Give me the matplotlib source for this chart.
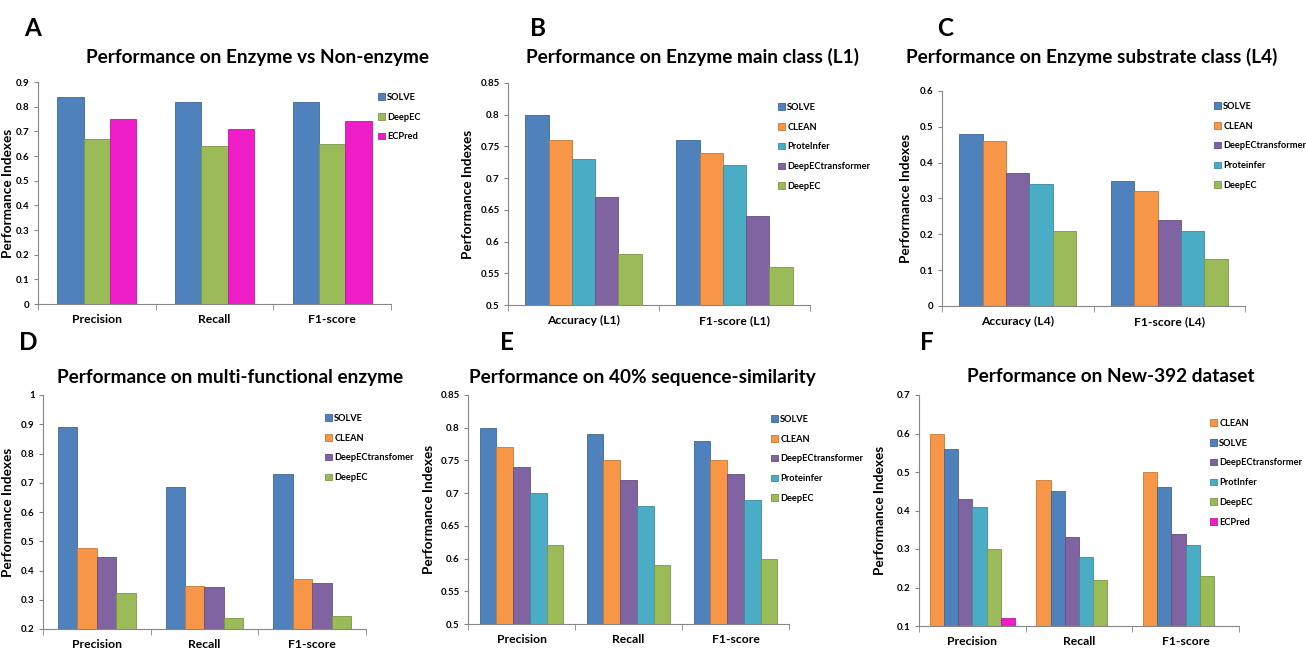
import matplotlib.pyplot as plt
import numpy as np
from matplotlib.colors import to_rgb

plt.rcParams['font.family'] = ['Lato', 'DejaVu Sans']
plt.rcParams['font.weight'] = 'bold'

W, H = 1306, 652

# colours per method
colors = {
    'SOLVE': '#4F81BD', 'CLEAN': '#F79646', 'ProteInfer': '#4BACC6',
    'DeepECtransformer': '#8064A2', 'DeepEC': '#9BBB59', 'ECPred': '#EE1DC8',
}

# panel A
a_cats = ['Precision', 'Recall', 'F1-score']
a_names = ['SOLVE', 'DeepEC', 'ECPred']
a_vals = [[0.84, 0.82, 0.82], [0.67, 0.64, 0.65], [0.75, 0.71, 0.74]]

# panel B
b_cats = ['Accuracy (L1)', 'F1-score (L1)']
b_names = ['SOLVE', 'CLEAN', 'ProteInfer', 'DeepECtransformer', 'DeepEC']
b_vals = [[0.80, 0.76], [0.76, 0.74], [0.73, 0.72], [0.67, 0.64], [0.58, 0.56]]

# panel C
c_cats = ['Accuracy (L4)', 'F1-score (L4)']
c_names = ['SOLVE', 'CLEAN', 'DeepECtransformer', 'Proteinfer', 'DeepEC']
c_vals = [[0.48, 0.35], [0.46, 0.32], [0.37, 0.24], [0.34, 0.21], [0.21, 0.13]]

# panel D
d_cats = ['Precision', 'Recall', 'F1-score']
d_names = ['SOLVE', 'CLEAN', 'DeepECtransfomer', 'DeepEC']
d_vals = [[0.89, 0.687, 0.73], [0.477, 0.348, 0.37],
          [0.446, 0.343, 0.357], [0.323, 0.236, 0.244]]

# panel E
e_cats = ['Precision', 'Recall', 'F1-score']
e_names = ['SOLVE', 'CLEAN', 'DeepECtransformer', 'Proteinfer', 'DeepEC']
e_vals = [[0.80, 0.79, 0.78], [0.77, 0.75, 0.75], [0.74, 0.72, 0.73],
          [0.70, 0.68, 0.69], [0.62, 0.59, 0.60]]

# panel F
f_cats = ['Precision', 'Recall', 'F1-score']
f_names = ['CLEAN', 'SOLVE', 'DeepECtransformer', 'ProtInfer', 'DeepEC', 'ECPred']
f_vals = [[0.60, 0.48, 0.50], [0.56, 0.45, 0.46], [0.43, 0.33, 0.34],
          [0.41, 0.28, 0.31], [0.30, 0.22, 0.23], [0.12, np.nan, np.nan]]

color_key = {'Proteinfer': 'ProteInfer', 'ProtInfer': 'ProteInfer',
             'DeepECtransfomer': 'DeepECtransformer'}


def darker(c, f=0.8):
    r, g, b = to_rgb(c)
    return (r * f, g * f, b * f)


fig = plt.figure(figsize=(W / 100, H / 100), dpi=100)


def panel(letter, title, cats, names, vals, box, ylim, step, fmt,
          title_xy, letter_xy, leg_xy, group, ylab_x):
    l, t, r, b = box
    ax = fig.add_axes([l / W, 1 - b / H, (r - l) / W, (b - t) / H])
    n = len(names)
    w = group / n
    x = np.arange(len(cats))
    for i, (nm, v) in enumerate(zip(names, vals)):
        c = colors[color_key.get(nm, nm)]
        ax.bar(x - group / 2 + w * (i + 0.5), v, w, color=c,
               edgecolor=darker(c), linewidth=0.6, label=nm)
    ax.set_xlim(-0.5, len(cats) - 0.5)
    ax.set_ylim(*ylim)
    ticks = np.arange(ylim[0], ylim[1] + step / 2, step)
    ax.set_yticks(ticks)
    ax.set_yticklabels([fmt(v) for v in ticks], fontsize=7, fontweight='bold')
    ax.set_xticks(x)
    ax.set_xticklabels(cats, fontsize=8.7, fontweight='bold')
    ax.set_xticks(np.arange(len(cats) + 1) - 0.5, minor=True)
    ax.tick_params(axis='x', which='major', length=0, pad=7)
    ax.tick_params(axis='x', which='minor', length=4, color='#868686')
    ax.tick_params(axis='y', length=3, color='#868686', pad=3)
    for s in ['top', 'right']:
        ax.spines[s].set_visible(False)
    for s in ['left', 'bottom']:
        ax.spines[s].set_color('#868686')
        ax.spines[s].set_linewidth(0.8)
    ax.set_ylabel('Performance Indexes', fontsize=9.8, fontweight='bold')
    ax.yaxis.set_label_coords((ylab_x - l) / (r - l), 0.5)
    fig.text(title_xy[0] / W, 1 - title_xy[1] / H, title, fontsize=13.7,
             fontweight='bold', ha='center', va='center')
    fig.text(letter_xy[0] / W, 1 - letter_xy[1] / H, letter, fontsize=17.5,
             fontweight='bold', ha='center', va='center')
    ax.legend(loc='upper left', bbox_to_anchor=(leg_xy[0] / W, 1 - leg_xy[1] / H),
              bbox_transform=fig.transFigure, frameon=False, fontsize=6.7,
              handlelength=0.7, handleheight=0.7, handletextpad=0.3,
              labelspacing=1.15, borderpad=0, borderaxespad=0)
    return ax


def f1(v):
    return '0' if abs(v) < 1e-9 else ('1' if abs(v - 1) < 1e-9 else f'{v:.1f}')


def f2(v):
    s = f'{v:.2f}'.rstrip('0')
    return s.rstrip('.') if s.endswith('.') else s


panel('A', 'Performance on Enzyme vs Non-enzyme', a_cats, a_names, a_vals,
      (38, 82, 391, 304), (0, 0.9), 0.1, f1, (257, 57), (33, 28), (378, 93), 0.67, 14)
panel('B', 'Performance on Enzyme main class (L1)', b_cats, b_names, b_vals,
      (508, 83, 810, 305), (0.5, 0.85), 0.05, f2, (693, 57), (538, 28), (778, 103), 0.77, 474)
panel('C', 'Performance on Enzyme substrate class (L4)', c_cats, c_names, c_vals,
      (942, 91, 1245, 306), (0, 0.6), 0.1, f1, (1092, 57), (945, 28), (1214, 102), 0.77, 912)
panel('D', 'Performance on multi-functional enzyme', d_cats, d_names, d_vals,
      (43, 395, 366, 629), (0.2, 1.0), 0.1, f1, (230, 377), (28, 343), (325, 414), 0.72, 14)
panel('E', 'Performance on 40% sequence-similarity', e_cats, e_names, e_vals,
      (468, 395, 789, 624), (0.5, 0.85), 0.05, f2, (642, 377), (507, 343), (771, 415), 0.78, 435)
panel('F', 'Performance on New-392 dataset', f_cats, f_names, f_vals,
      (919, 395, 1239, 626), (0.1, 0.7), 0.1, f1, (1111, 377), (927, 343), (1210, 419), 0.80, 886)

fig.savefig('out.png', dpi=100)
